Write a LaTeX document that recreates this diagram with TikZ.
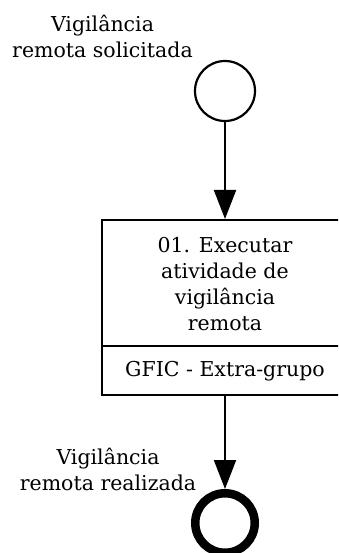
\documentclass[tikz,border=0pt]{standalone}
\usepackage{fontspec}
\setmainfont{DejaVu Serif}
\usetikzlibrary{arrows.meta}
\begin{document}
\begin{tikzpicture}[x=1pt,y=-1pt,
  every node/.style={font=\fontsize{20.5}{26}\selectfont, inner sep=0pt},
  label text/.style={align=center},
  startev/.style={circle, draw, line width=2.2pt, minimum size=60pt},
  endev/.style={circle, draw, line width=8.5pt, minimum size=59.5pt},
  taskbox/.style={rectangle, draw, line width=2pt, minimum width=246pt, minimum height=175pt},
  flow/.style={line width=2pt, -{Triangle[width=22pt,length=29pt]}}
]
\useasboundingbox (0,0) rectangle (338,553);
\clip (0,0) rectangle (338,553);
\node[startev] (s) at (225,91) {};
\node[label text] (sl) at (102.5,36) {Vigilância\\remota solicitada};
\node[taskbox] (t) at (225,307.5) {};
\coordinate (dl) at (102,346);
\coordinate (dr) at (348,346);
\draw[line width=2pt] (dl) -- (dr);
\node[label text] (tt) at (225,284) {01. Executar\\atividade de\\vigilância\\remota};
\node (lane) at (225,371) {GFIC - Extra-grupo};
\node[endev] (e) at (225,523) {};
\node[label text] (el) at (108,469) {Vigilância\\remota realizada};
\draw[flow] (s) -- (t);
\draw[flow] (t) -- (e);
\end{tikzpicture}
\end{document}
